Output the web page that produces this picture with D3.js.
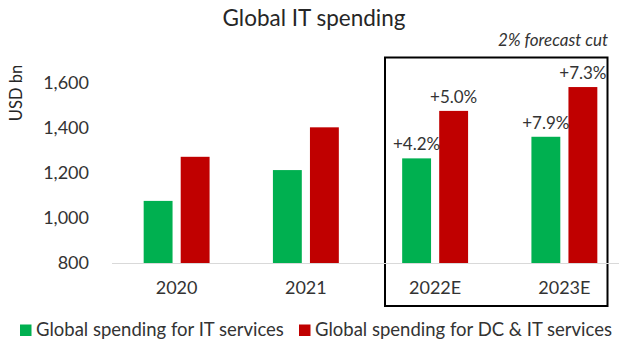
<!DOCTYPE html>
<html>
<head>
<meta charset="utf-8">
<script src="https://cdn.jsdelivr.net/npm/d3@7"></script>
<style>
  body { margin: 0; background: #fff; }
  svg { display: block; font-family: Lato, "Open Sans", sans-serif; }
</style>
</head>
<body>
<script>
// Chart data
const categories = ["2020", "2021", "2022E", "2023E"];
const seriesNames = ["Global spending for IT services", "Global spending for DC & IT services"];
const itServices = [1076, 1213, 1265, 1361];
const dcItServices = [1272, 1403, 1476, 1582];
const itGrowth = [null, null, "+4.2%", "+7.9%"];
const dcItGrowth = [null, null, "+5.0%", "+7.3%"];
const yTicks = [800, 1000, 1200, 1400, 1600];

const width = 619, height = 342;
const colors = ["#00b050", "#c00000"];
const textColor = "#333";

const rows = categories.map((c, i) => ({
  cat: c,
  vals: [
    { key: seriesNames[0], value: itServices[i], label: itGrowth[i] },
    { key: seriesNames[1], value: dcItServices[i], label: dcItGrowth[i] }
  ]
}));

const svg = d3.select("body").append("svg")
    .attr("width", width)
    .attr("height", height);

// x scale runs a little past the right edge, like the cropped original
const x = d3.scaleBand()
    .domain(categories)
    .range([112, 629])
    .paddingInner(0.49)
    .paddingOuter(0.245);

const xSub = d3.scaleBand()
    .domain(seriesNames)
    .range([0, x.bandwidth()])
    .paddingInner(0.22);

const y = d3.scaleLinear()
    .domain([800, 1600])
    .range([263, 83]);

// Title
svg.append("text")
    .attr("x", 314)
    .attr("y", 18)
    .attr("dy", "0.35em")
    .attr("text-anchor", "middle")
    .attr("fill", "#262626")
    .style("font-size", "22.5px")
    .text("Global IT spending");

// Y axis title
svg.append("text")
    .attr("transform", "translate(16,93) rotate(-90)")
    .attr("dy", "0.35em")
    .attr("text-anchor", "middle")
    .attr("fill", "#262626")
    .style("font-size", "16.5px")
    .text("USD bn");

// Y tick labels
svg.append("g")
  .selectAll("text")
  .data(yTicks)
  .join("text")
    .attr("x", 89)
    .attr("y", d => y(d))
    .attr("dy", "0.35em")
    .attr("text-anchor", "end")
    .attr("fill", textColor)
    .style("font-size", "18px")
    .text(d => d3.format(",")(d));

// Forecast box
svg.append("rect")
    .attr("x", 385)
    .attr("y", 57.5)
    .attr("width", 222.5)
    .attr("height", 248.5)
    .attr("fill", "none")
    .attr("stroke", "#000")
    .attr("stroke-width", 2);

svg.append("text")
    .attr("x", 608)
    .attr("y", 40)
    .attr("dy", "0.35em")
    .attr("text-anchor", "end")
    .attr("fill", textColor)
    .style("font-size", "17px")
    .style("font-style", "italic")
    .text("2% forecast cut");

// Baseline
svg.append("line")
    .attr("x1", 112)
    .attr("x2", width)
    .attr("y1", y(800) + 0.5)
    .attr("y2", y(800) + 0.5)
    .attr("stroke", "#d9d9d9")
    .attr("stroke-width", 1);

// Bars
const groups = svg.append("g")
  .selectAll("g")
  .data(rows)
  .join("g")
    .attr("transform", d => `translate(${x(d.cat)},0)`);

groups.selectAll("rect")
  .data(d => d.vals)
  .join("rect")
    .attr("x", d => xSub(d.key))
    .attr("y", d => y(d.value))
    .attr("width", xSub.bandwidth())
    .attr("height", d => y(800) - y(d.value))
    .attr("fill", (d, i) => colors[i]);

// Growth labels
groups.selectAll("text")
  .data(d => d.vals.filter(v => v.label))
  .join("text")
    .attr("x", d => xSub(d.key) + xSub.bandwidth() / 2)
    .attr("y", d => y(d.value) - 8)
    .attr("text-anchor", "middle")
    .attr("fill", textColor)
    .style("font-size", "17px")
    .text(d => d.label);

// X tick labels
svg.append("g")
  .selectAll("text")
  .data(categories)
  .join("text")
    .attr("x", d => x(d) + x.bandwidth() / 2)
    .attr("y", 288)
    .attr("dy", "0.35em")
    .attr("text-anchor", "middle")
    .attr("fill", textColor)
    .style("font-size", "18px")
    .text(d => d);

// Legend
const legendX = [20, 299];
const legend = svg.append("g")
  .selectAll("g")
  .data(seriesNames)
  .join("g")
    .attr("transform", (d, i) => `translate(${legendX[i]},330)`);

legend.append("rect")
    .attr("x", 0)
    .attr("y", -5.5)
    .attr("width", 11.5)
    .attr("height", 11.5)
    .attr("fill", (d, i) => colors[i]);

legend.append("text")
    .attr("x", 16)
    .attr("dy", "0.35em")
    .attr("fill", textColor)
    .style("font-size", "18.5px")
    .text(d => d);
</script>
</body>
</html>
